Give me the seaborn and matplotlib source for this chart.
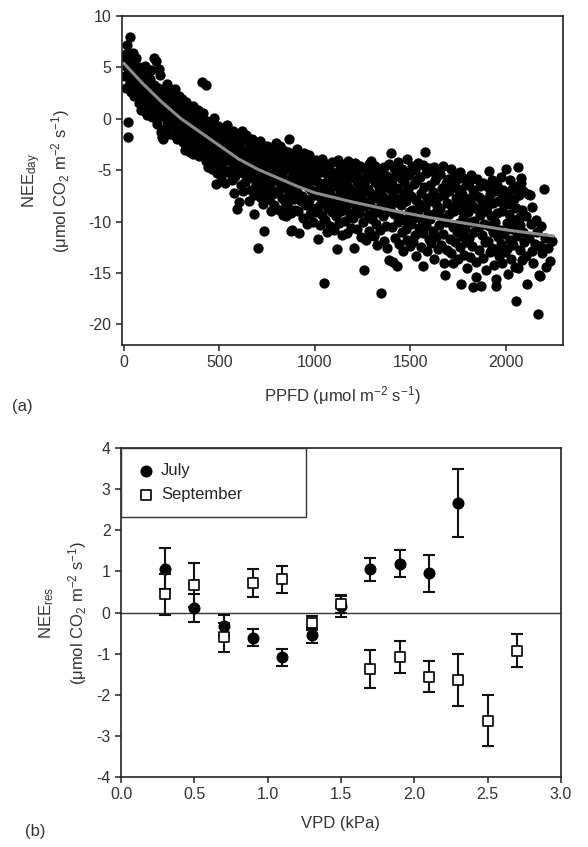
import numpy as np
import pandas as pd
import matplotlib
matplotlib.use("Agg")
import matplotlib.pyplot as plt
import seaborn as sns

sns.set_style("ticks")
plt.rcParams['font.family'] = ['Liberation Sans', 'DejaVu Sans']
plt.rcParams['mathtext.fontset'] = 'custom'
plt.rcParams['mathtext.rm'] = 'Liberation Sans'
plt.rcParams['mathtext.default'] = 'regular'
plt.rcParams['axes.unicode_minus'] = False

# ============================
# (a) NEE_day vs PPFD, points as (PPFD, NEE)
# ============================
pts_0_500 = [
    (5,5.8),(8,4.2),(10,6.3),(12,3.0),(15,7.2),(18,5.0),(20,-1.8),(22,-0.3),(25,4.6),(28,6.0),
    (30,3.6),(32,8.0),(35,5.3),(38,2.6),(40,4.0),(45,6.4),(48,3.2),(50,5.5),(55,2.2),(58,4.8),
    (60,3.5),(65,5.9),(68,2.8),(70,4.4),(75,3.0),(78,1.5),(80,5.0),(85,3.8),(88,2.3),(90,0.9),
    (95,4.3),(98,3.4),(102,2.0),(105,4.6),(108,0.9),(110,3.2),(112,5.1),(115,1.6),(118,2.8),(120,4.1),
    (122,0.4),(125,3.5),(128,1.2),(130,2.4),(135,3.9),(138,0.8),(140,1.9),(142,4.7),(145,2.9),(148,0.2),
    (150,1.5),(155,3.3),(158,2.2),(160,5.9),(162,0.6),(165,1.4),(168,5.6),(170,2.6),(172,-0.5),(175,1.0),
    (178,3.0),(180,0.2),(185,4.8),(188,1.8),(190,4.3),(192,-1.3),(195,0.5),(198,2.7),(200,-1.8),(205,-2.0),
    (205,1.2),(210,2.9),(212,0.3),(215,1.8),(218,-0.9),(220,2.3),(223,1.0),(226,3.4),(228,-0.2),(230,1.5),
    (233,2.6),(236,0.6),(238,-1.5),(240,1.9),(243,0.0),(246,2.8),(248,1.1),(252,-0.6),(255,1.6),(258,2.4),
    (260,0.2),(263,-1.6),(266,1.2),(268,2.9),(270,-0.3),(273,0.9),(276,-2.0),(278,1.8),(281,0.4),(284,-1.0),
    (286,2.2),(289,-0.5),(292,1.3),(295,-1.4),(298,0.6),(302,1.9),(305,-0.8),(308,0.7),(310,-2.3),(313,1.1),
    (316,-0.2),(318,-3.0),(321,0.3),(324,-1.4),(327,1.6),(330,-0.6),(333,-2.6),(336,0.0),(338,-1.8),(341,0.9),
    (344,-1.1),(347,-3.2),(349,0.4),(352,-2.0),(355,0.8),(358,-0.9),(360,-3.4),(363,1.2),(366,-1.6),(368,-0.3),
    (371,-2.7),(374,0.2),(377,-1.2),(380,-3.0),(383,-0.6),(386,-2.1),(389,0.9),(392,-1.5),(395,-3.6),(398,-0.1),
    (402,-1.9),(405,-0.4),(408,3.6),(410,-2.8),(413,0.6),(416,-1.3),(418,-3.5),(421,-0.8),(424,-2.2),(428,3.3),
    (430,-4.1),(433,-0.2),(436,-1.7),(439,-4.7),(442,-2.9),(445,-0.9),(448,-2.4),(452,-1.2),(455,-3.8),(458,-0.3),
    (460,-2.6),(463,-4.9),(466,-1.7),(468,-3.1),(471,0.1),(474,-2.0),(477,-4.4),(480,-1.0),(482,-6.3),(483,-3.4),
    (486,-5.3),(489,-2.5),(492,-0.7),(495,-3.9),(498,-1.9),
]

pts_500_1000 = [
    (502,-4.3),(505,-1.6),(508,-2.9),(510,-5.6),(513,-0.9),(516,-3.6),(518,-2.2),(521,-4.8),(524,-1.3),(527,-3.1),
    (530,-6.2),(533,-2.5),(536,-4.0),(538,-0.6),(541,-3.3),(544,-5.1),(547,-1.9),(552,-3.0),(555,-5.3),(558,-1.5),
    (560,-4.1),(563,-2.4),(566,-6.0),(569,-3.5),(572,-1.2),(575,-4.7),(577,-7.2),(580,-2.8),(583,-5.6),(586,-3.9),
    (589,-1.8),(592,-4.4),(594,-8.8),(597,-2.9),(602,-5.0),(604,-8.1),(606,-2.3),(609,-3.8),(612,-6.4),(615,-1.4),
    (618,-4.6),(620,-3.0),(621,-1.2),(623,-7.0),(626,-5.3),(629,-2.1),(632,-4.0),(635,-6.1),(638,-3.3),(641,-1.6),
    (644,-5.7),(647,-4.5),(652,-3.6),(656,-8.0),(659,-2.5),(662,-5.2),(665,-6.9),(668,-4.1),(671,-2.0),(674,-5.8),
    (677,-3.3),(680,-7.4),(682,-9.3),(685,-4.7),(688,-2.8),(691,-6.3),(694,-4.0),(697,-5.5),(700,-12.6),(702,-3.1),
    (705,-6.8),(708,-4.4),(711,-2.2),(714,-7.6),(717,-5.0),(720,-3.5),(723,-6.1),(726,-8.3),(729,-4.2),(732,-2.7),
    (734,-10.9),(737,-5.6),(740,-3.9),(743,-7.0),(746,-4.8),(749,-6.4),(752,-2.6),(755,-5.4),(758,-7.8),(761,-4.0),
    (764,-3.1),(767,-6.6),(770,-9.0),(773,-4.9),(776,-2.9),(779,-7.3),(782,-5.8),(785,-3.7),(788,-8.4),(791,-6.0),
    (794,-4.5),(797,-2.4),(802,-5.2),(805,-7.0),(808,-3.4),(811,-8.9),(814,-4.6),(817,-6.2),(820,-2.6),(823,-5.6),
    (826,-7.7),(829,-4.0),(832,-9.4),(835,-3.0),(838,-6.5),(841,-5.0),(844,-8.1),(847,-3.8),(848,-9.5),(852,-6.8),
    (855,-4.3),(858,-8.6),(861,-3.2),(864,-5.9),(866,-2.0),(867,-7.4),(870,-4.8),(873,-9.2),(875,-10.9),(876,-6.2),
    (879,-3.6),(883,-10.8),(886,-5.3),(889,-7.8),(892,-4.1),(895,-6.7),(898,-8.9),(902,-4.4),(905,-7.1),(908,-2.9),
    (911,-5.8),(914,-9.0),(918,-11.1),(921,-6.3),(924,-3.8),(927,-8.0),(930,-5.0),(933,-7.5),(936,-4.2),(939,-9.6),
    (942,-6.0),(945,-3.3),(948,-7.8),(952,-5.5),(955,-8.4),(958,-4.5),(961,-10.2),(964,-6.6),(967,-3.5),(970,-7.9),
    (971,-3.8),(974,-5.1),(977,-9.3),(980,-6.9),(983,-4.1),(986,-8.7),(989,-6.0),(992,-10.0),(995,-4.8),(998,-7.4),
]

pts_1000_1600 = [
    (1002,-5.7),(1005,-9.1),(1008,-4.0),(1011,-7.0),(1014,-11.7),(1017,-6.1),(1020,-8.5),(1023,-4.6),(1026,-10.3),(1029,-7.6),
    (1032,-5.2),(1035,-9.4),(1038,-3.9),(1041,-6.8),(1044,-8.0),(1047,-5.0),(1049,-16.0),(1052,-6.2),(1055,-9.8),(1058,-4.4),
    (1061,-7.9),(1064,-11.0),(1067,-5.6),(1070,-8.7),(1073,-6.9),(1076,-4.9),(1079,-10.4),(1082,-7.3),(1085,-5.9),(1088,-9.1),
    (1091,-4.2),(1094,-8.2),(1097,-6.5),(1102,-10.8),(1105,-5.3),(1108,-7.7),(1111,-9.5),(1114,-12.7),(1117,-6.0),(1119,-4.0),
    (1122,-8.4),(1125,-5.1),(1128,-10.1),(1131,-7.0),(1134,-4.7),(1137,-9.0),(1140,-6.4),(1143,-11.3),(1146,-8.0),(1149,-5.6),
    (1152,-7.4),(1155,-4.5),(1158,-9.9),(1161,-6.2),(1164,-8.6),(1167,-5.3),(1170,-11.1),(1173,-7.8),(1176,-4.1),(1179,-6.7),
    (1182,-9.3),(1185,-5.8),(1188,-10.6),(1191,-8.1),(1194,-4.8),(1197,-7.0),(1202,-9.6),(1205,-5.5),(1207,-12.6),(1210,-7.2),
    (1213,-4.3),(1216,-8.8),(1219,-6.1),(1222,-10.7),(1225,-5.0),(1228,-7.9),(1231,-9.2),(1234,-6.6),(1237,-4.6),(1240,-11.5),
    (1243,-8.3),(1246,-5.9),(1249,-7.5),(1252,-10.0),(1255,-6.3),(1259,-14.7),(1261,-4.9),(1264,-8.5),(1267,-7.0),(1270,-11.8),
    (1273,-5.5),(1276,-9.4),(1279,-6.8),(1282,-4.4),(1285,-10.9),(1288,-8.0),(1291,-5.8),(1294,-4.1),(1297,-9.7),(1302,-7.3),
    (1305,-5.2),(1308,-11.4),(1311,-8.8),(1314,-6.1),(1317,-4.6),(1320,-10.2),(1323,-7.7),(1326,-12.3),(1329,-5.7),(1332,-9.1),
    (1335,-6.6),(1338,-4.9),(1341,-10.8),(1344,-8.2),(1347,-16.9),(1349,-6.9),(1352,-5.3),(1355,-9.5),(1358,-7.6),(1361,-11.9),
    (1364,-4.7),(1367,-8.4),(1370,-6.2),(1373,-10.4),(1376,-5.6),(1379,-12.6),(1382,-7.9),(1385,-9.0),(1388,-4.4),(1390,-13.7),
    (1393,-6.8),(1396,-8.7),(1399,-3.3),(1402,-10.5),(1405,-6.0),(1408,-13.9),(1411,-7.4),(1414,-4.8),(1417,-9.3),(1420,-11.6),
    (1423,-5.4),(1426,-8.1),(1429,-14.3),(1432,-6.7),(1435,-10.0),(1438,-4.2),(1441,-12.2),(1444,-7.8),(1447,-9.6),(1449,-5.8),
    (1452,-8.4),(1455,-11.0),(1458,-4.9),(1461,-7.1),(1464,-12.9),(1467,-6.1),(1470,-9.8),(1473,-5.2),(1476,-10.7),(1479,-8.0),
    (1482,-3.9),(1485,-11.8),(1488,-6.8),(1491,-9.1),(1494,-5.5),(1497,-12.4),(1502,-7.5),(1505,-10.2),(1508,-4.6),(1511,-8.9),
    (1514,-12.0),(1517,-6.3),(1520,-9.6),(1523,-5.0),(1526,-11.3),(1529,-7.9),(1532,-13.3),(1535,-6.0),(1538,-9.0),(1541,-4.3),
    (1544,-10.6),(1547,-8.3),(1552,-5.7),(1555,-12.5),(1558,-7.2),(1561,-9.9),(1564,-4.5),(1567,-11.1),(1569,-14.3),(1572,-6.6),
    (1575,-3.2),(1578,-8.6),(1581,-10.4),(1584,-5.3),(1587,-12.9),(1590,-7.7),(1593,-9.3),(1596,-4.8),(1599,-11.7),
]

pts_1600_2250 = [
    (1602,-6.4),(1605,-9.7),(1608,-12.1),(1611,-5.1),(1614,-8.0),(1617,-10.9),(1620,-7.1),(1623,-13.6),(1626,-4.7),(1629,-9.2),
    (1632,-6.0),(1635,-11.5),(1638,-8.5),(1641,-5.6),(1644,-12.7),(1647,-7.6),(1652,-10.3),(1655,-5.4),(1658,-8.8),(1661,-12.3),
    (1664,-6.7),(1667,-9.6),(1670,-4.6),(1673,-11.2),(1676,-7.4),(1679,-14.0),(1682,-15.2),(1685,-6.2),(1688,-10.0),(1691,-8.2),
    (1694,-12.8),(1697,-5.9),(1702,-9.3),(1705,-7.0),(1708,-11.7),(1711,-4.9),(1714,-13.1),(1717,-8.6),(1720,-6.3),(1722,-14.0),
    (1725,-10.5),(1728,-5.5),(1731,-9.0),(1734,-12.0),(1737,-7.7),(1740,-6.0),(1743,-11.0),(1746,-8.3),(1749,-13.6),(1752,-6.8),
    (1755,-10.1),(1758,-5.2),(1761,-12.5),(1764,-8.9),(1766,-16.1),(1769,-7.3),(1772,-11.4),(1775,-9.6),(1778,-5.8),(1781,-13.2),
    (1784,-7.9),(1787,-10.7),(1790,-6.4),(1793,-12.0),(1796,-8.5),(1799,-14.5),(1802,-9.1),(1805,-6.1),(1808,-11.6),(1811,-7.7),
    (1814,-13.4),(1817,-10.0),(1819,-5.5),(1822,-8.4),(1825,-12.4),(1827,-16.4),(1830,-6.9),(1833,-9.9),(1836,-11.0),(1839,-7.4),
    (1842,-13.9),(1845,-15.4),(1848,-8.8),(1852,-5.9),(1855,-10.6),(1858,-12.8),(1861,-7.6),(1864,-9.4),(1867,-6.5),(1871,-16.3),
    (1874,-11.3),(1877,-8.1),(1880,-13.5),(1883,-6.2),(1886,-10.2),(1889,-12.0),(1892,-7.9),(1895,-9.0),(1897,-14.7),(1902,-8.6),
    (1905,-11.9),(1908,-6.6),(1911,-5.1),(1914,-10.4),(1917,-13.0),(1920,-7.3),(1923,-9.5),(1926,-12.6),(1929,-6.0),(1932,-11.0),
    (1935,-8.2),(1938,-14.2),(1941,-7.0),(1944,-10.0),(1947,-12.9),(1950,-16.3),(1950,-15.6),(1953,-9.2),(1956,-6.4),(1959,-11.5),
    (1962,-8.0),(1965,-13.3),(1968,-7.1),(1971,-10.8),(1974,-5.7),(1977,-12.2),(1980,-9.0),(1983,-14.0),(1986,-6.9),(1989,-11.2),
    (1992,-8.4),(1995,-13.0),(1998,-7.7),(2002,-4.9),(2005,-10.1),(2008,-12.7),(2011,-15.1),(2014,-7.5),(2017,-9.3),(2020,-6.0),
    (2023,-11.8),(2026,-13.6),(2029,-8.3),(2032,-6.8),(2035,-10.7),(2038,-12.3),(2041,-7.8),(2044,-9.8),(2047,-14.4),(2052,-8.7),
    (2055,-17.7),(2058,-6.5),(2061,-11.4),(2064,-4.7),(2064,-14.5),(2067,-9.6),(2070,-7.4),(2073,-12.8),(2076,-10.3),(2079,-6.2),
    (2081,-5.8),(2084,-13.7),(2087,-8.9),(2090,-11.0),(2093,-7.0),(2097,-12.0),(2104,-9.5),(2108,-13.3),(2112,-16.1),(2116,-7.3),
    (2120,-11.6),(2126,-7.4),(2130,-10.2),(2135,-12.9),(2140,-8.6),(2145,-14.0),(2151,-12.2),(2156,-9.8),(2162,-11.0),(2169,-19.0),
    (2174,-15.2),(2177,-15.3),(2180,-12.4),(2186,-10.4),(2192,-13.1),(2200,-6.8),(2206,-11.6),(2212,-14.4),(2220,-12.6),(2230,-13.8),
    (2244,-11.9),
]

# fitted light-response curve
curve_ppfd = [0, 100, 200, 300, 400, 500, 600, 700, 800, 900, 1000, 1200, 1400, 1600, 1800, 2000, 2250]
curve_nee = [5.4, 3.4, 1.6, 0.0, -1.3, -2.6, -3.9, -4.9, -5.7, -6.5, -7.2, -8.1, -8.9, -9.6, -10.2, -10.8, -11.4]

# ============================
# (b) NEE residuals vs VPD
# ============================
vpd_july = [0.3, 0.5, 0.7, 0.9, 1.1, 1.3, 1.5, 1.7, 1.9, 2.1, 2.3]
res_july = [1.07, 0.12, -0.32, -0.61, -1.09, -0.55, 0.15, 1.05, 1.19, 0.96, 2.66]
err_july = [0.49, 0.34, 0.25, 0.21, 0.20, 0.18, 0.25, 0.28, 0.33, 0.45, 0.83]

vpd_sept = [0.3, 0.5, 0.7, 0.9, 1.1, 1.3, 1.5, 1.7, 1.9, 2.1, 2.3, 2.5, 2.7]
res_sept = [0.44, 0.67, -0.60, 0.72, 0.81, -0.25, 0.20, -1.37, -1.07, -1.56, -1.64, -2.63, -0.93]
err_sept = [0.50, 0.53, 0.35, 0.34, 0.33, 0.17, 0.22, 0.46, 0.39, 0.37, 0.64, 0.62, 0.40]

all_pts = pts_0_500 + pts_500_1000 + pts_1000_1600 + pts_1600_2250
df_a = pd.DataFrame(all_pts, columns=['ppfd', 'nee'])
df_curve = pd.DataFrame({'ppfd': curve_ppfd, 'nee': curve_nee})

fig = plt.figure(figsize=(5.88, 8.47), dpi=100)
ax1 = fig.add_axes([0.2075, 0.5927, 0.75, 0.3884])
ax2 = fig.add_axes([0.2058, 0.0826, 0.748, 0.3884])

# ---- panel a
sns.scatterplot(data=df_a, x='ppfd', y='nee', ax=ax1, color='black', s=55,
                edgecolor='black', linewidth=0, legend=False, zorder=2)
sns.lineplot(data=df_curve, x='ppfd', y='nee', ax=ax1, color='#8c8c8c', lw=2.2,
             legend=False, zorder=3)
ax1.set_xlim(-10, 2300)
ax1.set_ylim(-22, 10)
ax1.set_xticks([0, 500, 1000, 1500, 2000])
ax1.set_yticks([-20, -15, -10, -5, 0, 5, 10])
ax1.set_xlabel('PPFD (μmol m$^{-2}$ s$^{-1}$)', fontsize=12, labelpad=10)
ax1.set_ylabel('NEE$_{day}$\n(μmol CO$_2$ m$^{-2}$ s$^{-1}$)', fontsize=12, labelpad=12,
               linespacing=1.35)

# ---- panel b
ax2.axhline(0, color='#333333', lw=1.0, zorder=1)
ax2.errorbar(vpd_july, res_july, yerr=err_july, fmt='none', ecolor='#111111',
             elinewidth=1.5, capsize=4.3, capthick=1.5, zorder=2)
sns.scatterplot(x=vpd_july, y=res_july, ax=ax2, marker='o', s=75, color='black',
                edgecolor='black', linewidth=0, zorder=3, label='July')
ax2.errorbar(vpd_sept, res_sept, yerr=err_sept, fmt='none', ecolor='#111111',
             elinewidth=1.5, capsize=4.3, capthick=1.5, zorder=4)
sns.scatterplot(x=vpd_sept, y=res_sept, ax=ax2, marker='s', s=42, color='white',
                edgecolor='black', linewidth=1.2, zorder=5, label='September')
ax2.set_xlim(0, 3)
ax2.set_ylim(-4, 4)
ax2.set_xticks([0, 0.5, 1.0, 1.5, 2.0, 2.5, 3.0])
ax2.set_xticklabels(['0.0', '0.5', '1.0', '1.5', '2.0', '2.5', '3.0'])
ax2.set_yticks(range(-4, 5))
ax2.set_xlabel('VPD (kPa)', fontsize=12, labelpad=10)
ax2.set_ylabel('NEE$_{res}$\n(μmol CO$_2$ m$^{-2}$ s$^{-1}$)', fontsize=12, labelpad=5,
               linespacing=1.6)

leg = ax2.legend(loc='upper left', bbox_to_anchor=(0, 1, 0.42, 0), mode='expand',
                 borderaxespad=0, fancybox=False, frameon=True, fontsize=12,
                 borderpad=0.9, labelspacing=0.55, handletextpad=0.3, handlelength=1.2)
leg.get_frame().set_edgecolor('#333333')
leg.get_frame().set_linewidth(1.0)
leg.get_frame().set_alpha(1)

for ax in (ax1, ax2):
    for sp in ax.spines.values():
        sp.set_visible(True)
        sp.set_color('#222222')
        sp.set_linewidth(1.2)
    ax.tick_params(direction='out', length=4, width=1.1, labelsize=11.5, colors='#222222',
                   labelcolor='#333333')
    ax.xaxis.label.set_color('#333333')
    ax.yaxis.label.set_color('#333333')

fig.text(0.02, 0.52, '(a)', fontsize=12, color='#333333', va='center')
fig.text(0.043, 0.018, '(b)', fontsize=12, color='#333333', va='center')

fig.savefig('out.png', dpi=100)
